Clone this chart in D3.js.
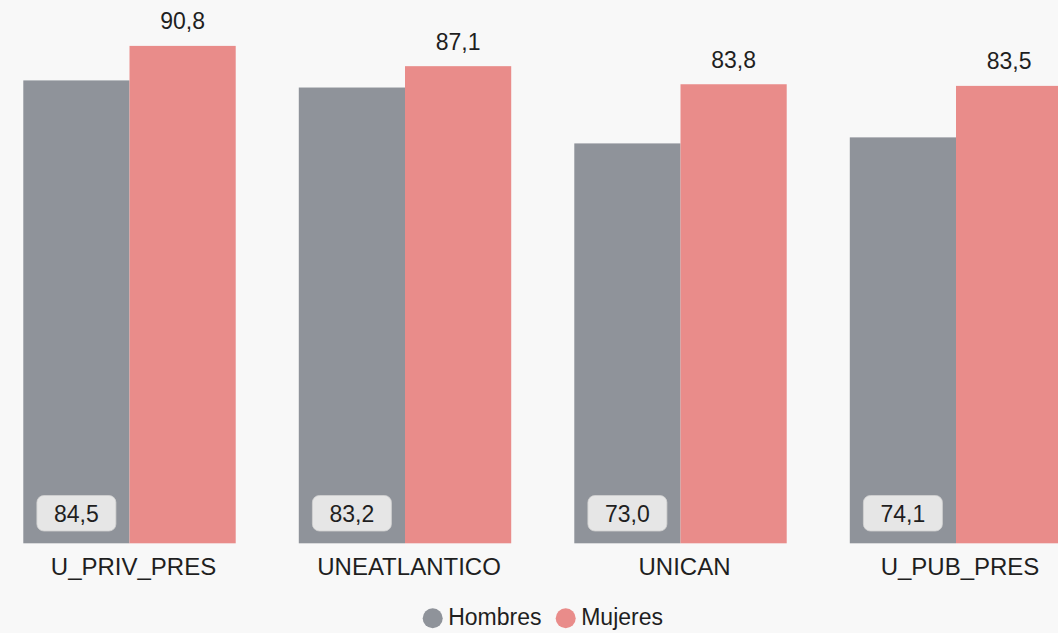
<!DOCTYPE html>
<html><head><meta charset="utf-8">
<script src="https://cdn.jsdelivr.net/npm/d3@7"></script>
<style>
html,body{margin:0;padding:0;background:#f8f8f8;}
svg{display:block;font-family:"Liberation Sans",Arial,sans-serif;}
</style></head>
<body><svg id="c" width="1058" height="633"></svg>
<script>
const categories = ["U_PRIV_PRES","UNEATLANTICO","UNICAN","U_PUB_PRES"];
const series = ["Hombres","Mujeres"];
const hombres = [84.5, 83.2, 73.0, 74.1];
const mujeres = [90.8, 87.1, 83.8, 83.5];
const colors = ["#8f939a","#e98c8a"];

const svg = d3.select("#c");
svg.append("rect").attr("width",1058).attr("height",633).attr("fill","#f8f8f8");
const fmt = v => d3.format(".1f")(v).replace(".", ",");

const x = d3.scaleBand().domain(categories).range([-8.25, 1093.75]).paddingInner(0.229).paddingOuter(0.1145);
const xs = d3.scaleBand().domain(series).range([0, x.bandwidth()]);
const y = d3.scaleLinear().domain([0,100]).range([543.3, -4.5]);

const data = categories.map((c,i)=>({cat:c, vals:[hombres[i], mujeres[i]]}));
const g = svg.append("g");
const grp = g.selectAll("g.grp").data(data).join("g").attr("class","grp")
  .attr("transform", d=>`translate(${x(d.cat)},0)`);

grp.selectAll("rect.bar").data(d=>d.vals.map((v,j)=>({s:series[j], v, j})))
  .join("rect").attr("class","bar")
  .attr("x", d=>xs(d.s)).attr("width", xs.bandwidth())
  .attr("y", d=>y(d.v)).attr("height", d=>y(0)-y(d.v))
  .attr("fill", d=>colors[d.j]);

// Hombres labels in boxes near bottom
grp.each(function(d){
  const gg = d3.select(this);
  const cx = xs("Hombres") + xs.bandwidth()/2;
  gg.append("rect").attr("x", cx-39.5).attr("y", 495.5).attr("width",79).attr("height",35.5)
    .attr("rx",7).attr("fill","#e6e6e6").attr("stroke","#d2d2d2").attr("stroke-width",0.8);
  gg.append("text").attr("x", cx).attr("y", 521.7).attr("text-anchor","middle")
    .attr("font-size",23).attr("fill","#1f1f1f").text(fmt(d.vals[0]));
  const px = xs("Mujeres") + xs.bandwidth()/2;
  gg.append("text").attr("x", px).attr("y", y(d.vals[1]) - 16.5).attr("text-anchor","middle")
    .attr("font-size",23).attr("fill","#1f1f1f").text(fmt(d.vals[1]));
});

// category axis labels
const xAxis = d3.axisBottom(x).tickSize(0).tickPadding(0);
const ax = svg.append("g").attr("transform","translate(4,543.3)").call(xAxis);
ax.select(".domain").remove();
ax.selectAll("text").attr("font-size",24).attr("fill","#1f1f1f").attr("dy",null).attr("y",32.2)
  .attr("font-family","Liberation Sans, Arial, sans-serif");

// legend
const leg = svg.append("g");
const legX = [432.7, 565.7];
series.forEach((s,i)=>{
  leg.append("circle").attr("cx",legX[i]).attr("cy",618.3).attr("r",10).attr("fill",colors[i]);
  leg.append("text").attr("x",legX[i]+15.5).attr("y",625).attr("font-size",23).attr("fill","#1f1f1f").text(s);
});
</script></body></html>
